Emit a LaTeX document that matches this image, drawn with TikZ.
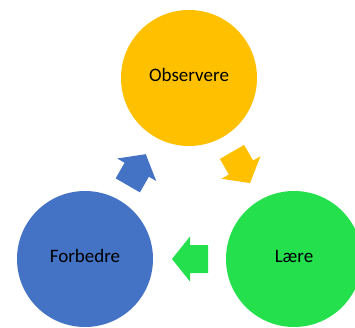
\documentclass[tikz,border=0pt]{standalone}
\usepackage{fontspec}
\setmainfont{Carlito}
\definecolor{cOrange}{HTML}{FFC000}
\definecolor{cGreen}{HTML}{24E04C}
\definecolor{cBlue}{HTML}{4472C4}
\begin{document}
\begin{tikzpicture}[x=1pt,y=1pt,
  stage/.style={circle, minimum size=136pt, inner sep=0pt, text height=13.5pt, text depth=6.5pt,
    font=\fontsize{19}{23}\selectfont, text=black},
  blockarrow/.pic={\fill[#1] (-18,-14) -- (0,-14) -- (0,-22.5) -- (18,0) -- (0,22.5) -- (0,14) -- (-18,14) -- cycle;}
]
\useasboundingbox (0,0) rectangle (355,327);
\node[stage, fill=cOrange] (obs) at (189,249) {Observere};
\node[stage, fill=cGreen] (laere) at (294,68) {Lære};
\node[stage, fill=cBlue] (forb) at (85,68) {Forbedre};
\pic[rotate=-60] (a1) at (241,159.5) {blockarrow=cOrange};
\pic[rotate=180] (a2) at (190,68) {blockarrow=cGreen};
\pic[rotate=60] (a3) at (136.75,157.25) {blockarrow=cBlue};
\end{tikzpicture}
\end{document}
